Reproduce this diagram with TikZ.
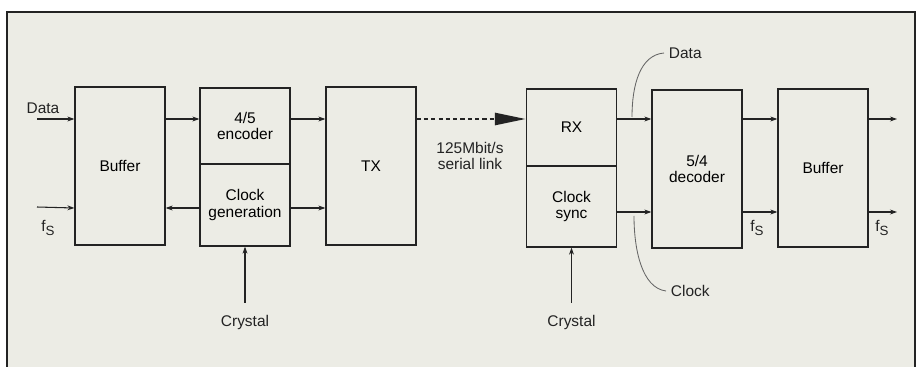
\documentclass[tikz,border=0pt]{standalone}
\usepackage{fontspec}
\setmainfont{Liberation Sans}
\usetikzlibrary{arrows.meta}
\definecolor{paper}{RGB}{236,236,229}
\definecolor{ink}{RGB}{35,35,35}
\newcommand{\fsub}{f\raisebox{-0.45ex}{\fontsize{9.5}{10}\selectfont S}}

\begin{document}
\begin{tikzpicture}[x=0.025cm, y=-0.025cm,
  blk/.style={draw=ink, line width=0.85pt, minimum width=2.25cm, align=center, inner sep=0pt, font=\fontsize{11}{12}\selectfont},
  arr/.style={draw=ink, line width=0.75pt, -{Stealth[length=5pt,width=3.5pt]}},
  lbl/.style={text=ink, align=center, font=\fontsize{11}{12}\selectfont}]

\useasboundingbox (0,0) rectangle (922,367);
\fill[paper] (7,12) rectangle (915,367);
\draw[ink, line width=1pt] (7,367) -- (7,12) -- (915,12) -- (915,367);

% signal levels
\coordinate (hi) at (0,119);
\coordinate (lo) at (0,208);
\coordinate (lo2) at (0,212);

% transmitter side
\node[blk, minimum height=3.95cm] (buf1) at (120,166) {Buffer};
\node[blk, minimum height=1.9cm] (enc) at (245,126) {4/5\\encoder};
\node[blk, minimum height=2.05cm] (clk) at (245,205) {Clock\\generation};
\node[blk, minimum height=3.95cm] (tx) at (371,166) {TX};

% receiver side
\node[blk, minimum height=1.925cm] (rx) at (571.5,127.5) {RX};
\node[blk, minimum height=2.025cm] (sync) at (571.5,206.5) {Clock\\sync};
\node[blk, minimum height=3.95cm] (dec) at (697,169) {5/4\\decoder};
\node[blk, minimum height=3.95cm] (buf2) at (823,168) {Buffer};

% labels
\node[lbl] (datain) at (43,108) {Data};
\node[lbl] (fsin) at (48,228) {\fsub};
\node[lbl] (xtal1) at (245,322) {Crystal};
\node[lbl] (xtal2) at (571.5,322) {Crystal};
\node[lbl] (link) at (470,156) {125Mbit/s\\serial link};
\node[lbl] (fsmid) at (757,228) {\fsub};
\node[lbl] (fsout) at (882,228) {\fsub};
\node[lbl, anchor=west] (dlbl) at (664,53) {Data};
\node[lbl, anchor=west] (clbl) at (666,291) {Clock};

\coordinate (din) at (37,119);
\coordinate (fin) at (37,207);
\coordinate (dout) at (897,119);
\coordinate (fout) at (897,212);
\coordinate (dtap) at (632,117);
\coordinate (ctap) at (634,216);

\draw[arr] (din) -- (buf1.west |- hi);
\draw[arr] (fin) -- (buf1.west |- lo);
\draw[arr] (buf1.east |- hi) -- (enc.west |- hi);
\draw[arr] (clk.west |- lo) -- (buf1.east |- lo);
\draw[arr] (enc.east |- hi) -- (tx.west |- hi);
\draw[arr] (clk.east |- lo) -- (tx.west |- lo);
\draw[arr] (xtal1.north) ++(0,-7) -- (clk.south);

% serial link
\draw[ink, line width=1.9pt, dash pattern=on 3pt off 2.2pt,
  -{Triangle[length=22pt,width=8.5pt]}] (tx.east |- hi) -- (rx.west |- hi);

\draw[arr] (rx.east |- hi) -- (dec.west |- hi);
\draw[arr] (sync.east |- lo2) -- (dec.west |- lo2);
\draw[arr] (xtal2.north) ++(0,-7) -- (sync.south);
\draw[arr] (dec.east |- hi) -- (buf2.west |- hi);
\draw[arr] (dec.east |- lo2) -- (buf2.west |- lo2);
\draw[arr] (buf2.east |- hi) -- (dout);
\draw[arr] (buf2.east |- lo2) -- (fout);

% pointers
\draw[ink!70, line width=0.6pt] (dlbl.west) .. controls (640,55) and (632,85) .. (dtap);
\draw[ink!70, line width=0.6pt] (clbl.west) .. controls (642,288) and (634,250) .. (ctap);

\end{tikzpicture}
\end{document}
